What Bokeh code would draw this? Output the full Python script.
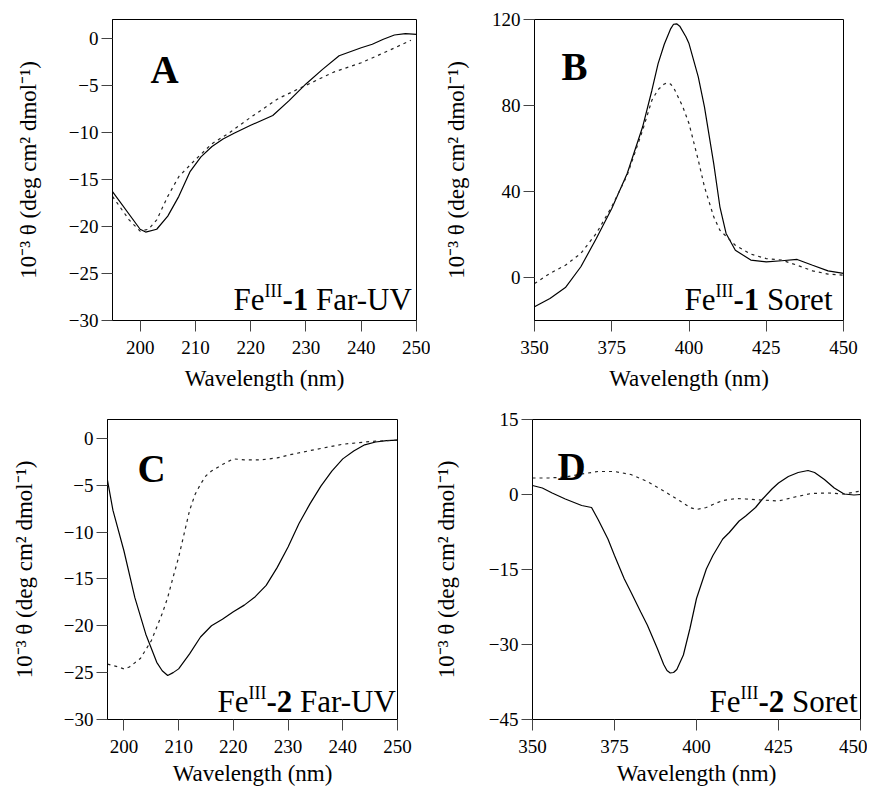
from bokeh.plotting import figure
from bokeh.layouts import column, row
from bokeh.models import Label, FixedTicker, Range1d
from bokeh.embed import file_html
from bokeh.resources import INLINE

# ---------------- data ----------------
a_solid_wl = [195, 200, 201, 203, 205, 207, 209, 211, 213, 215, 217, 220, 224, 227, 230, 233, 236, 240, 242, 244, 246, 248, 250]
a_solid = [-16.3, -20.3, -20.6, -20.3, -18.9, -16.8, -14.2, -12.6, -11.5, -10.7, -10.1, -9.25, -8.2, -6.6, -4.85, -3.3, -1.86, -1.0, -0.63, -0.1, 0.35, 0.5, 0.42]
a_dash_wl = [195, 198, 200, 201.5, 203, 205, 207, 210, 213, 216, 220, 225, 230, 235, 240, 245, 249]
a_dash = [-16.8, -19.3, -20.5, -20.3, -19.3, -16.8, -14.7, -12.9, -11.2, -10.1, -8.4, -6.4, -5.0, -3.6, -2.6, -1.3, -0.2]

b_solid_wl = [350, 355, 360, 365, 370, 375, 380, 385, 388, 390, 392, 394, 395, 396, 397, 399, 400, 403, 405, 408, 410, 412, 415, 420, 425, 430, 435, 440, 445, 450]
b_solid = [-13.6, -9.8, -4.7, 5.0, 18.1, 32.1, 48.4, 70.1, 87.1, 99.5, 108.5, 115.5, 117.8, 118.0, 116.9, 112.0, 108.8, 93.3, 79.4, 53.0, 32.9, 20.5, 12.7, 8.1, 7.3, 7.8, 8.4, 5.7, 3.1, 1.9]
b_dash_wl = [350, 355, 360, 365, 370, 375, 380, 385, 388, 390, 392, 393, 394, 395, 398, 400, 403, 405, 408, 410, 415, 420, 425, 430, 435, 440, 445, 450]
b_dash = [-2.8, 1.9, 5.7, 11.2, 20.5, 32.9, 47.6, 68.5, 82.5, 87.4, 90.0, 90.5, 90.0, 88.4, 79.4, 71.6, 54.6, 42.2, 28.2, 22.0, 15.0, 10.9, 8.8, 8.1, 5.7, 3.1, 1.6, 1.1]

c_solid_wl = [197, 198, 200, 202, 204, 205, 206, 207, 208, 209, 210, 212, 214, 216, 218, 220, 222, 224, 226, 228, 230, 232, 234, 236, 238, 240, 242, 244, 246, 248, 250]
c_solid = [-4.5, -7.7, -12.0, -17.0, -20.9, -22.4, -23.9, -24.8, -25.3, -25.0, -24.6, -23.0, -21.2, -20.0, -19.3, -18.5, -17.8, -16.9, -15.7, -13.8, -11.6, -9.1, -7.0, -5.1, -3.5, -2.2, -1.35, -0.7, -0.4, -0.25, -0.2]
c_dash_wl = [197, 199, 200, 201, 203, 205, 207, 208, 209, 210, 211, 212, 213, 214, 215, 216, 218, 220, 222, 225, 228, 230, 235, 240, 245, 250]
c_dash = [-24.1, -24.4, -24.6, -24.4, -23.5, -21.6, -18.7, -17.0, -14.8, -12.7, -10.2, -7.7, -6.0, -4.9, -4.0, -3.5, -2.8, -2.2, -2.3, -2.3, -2.1, -1.8, -1.2, -0.64, -0.35, -0.2]

d_solid_wl = [350, 353, 356, 360, 365, 368, 370, 373, 375, 378, 380, 383, 385, 388, 390, 391, 392, 393, 394, 396, 398, 400, 403, 405, 408, 410, 413, 415, 418, 420, 423, 425, 428, 431, 434, 436, 439, 442, 445, 448, 450]
d_solid = [1.8, 1.3, 0.3, -0.9, -2.2, -2.6, -5.0, -8.9, -12.2, -16.9, -19.5, -23.5, -26.1, -30.7, -34.0, -35.2, -35.7, -35.6, -35.0, -32.1, -26.8, -20.8, -14.9, -12.2, -8.9, -7.6, -5.3, -4.3, -2.6, -1.0, 1.1, 2.3, 3.6, 4.4, 4.8, 4.4, 3.0, 1.3, 0.1, -0.1, 0.0]
d_dash_wl = [350, 355, 360, 365, 370, 375, 380, 385, 390, 393, 395, 398, 400, 403, 405, 408, 412, 415, 420, 425, 430, 435, 440, 445, 450]
d_dash = [3.3, 3.3, 3.5, 4.1, 4.6, 4.6, 4.0, 2.6, 0.7, -0.5, -1.3, -2.6, -3.0, -2.6, -2.0, -1.2, -0.8, -0.9, -1.1, -1.3, -0.5, 0.2, 0.3, 0.1, 0.7]

x_ticks_far = [200, 210, 220, 230, 240, 250]
x_ticks_soret = [350, 375, 400, 425, 450]
y_ticks_a = [-30, -25, -20, -15, -10, -5, 0]
y_ticks_b = [0, 40, 80, 120]
y_ticks_d = [-45, -30, -15, 0, 15]

panel_letters = ["A", "B", "C", "D"]
compound = ["1", "1", "2", "2"]
region = ["Far-UV", "Soret", "Far-UV", "Soret"]
x_title = "Wavelength (nm)"
y_title = "10\u207b\u00b3 \u03b8 (deg cm\u00b2 dmol\u207b\u00b9)"

FONT = "Liberation Serif"
MID = 0.34  # labels are anchored at the middle of the text box: shift to put the baseline where wanted

# Times / Liberation Serif advance widths (per 1000 em)
W_REG = {"F": 556, "e": 444, "I": 333, "a": 444, "r": 333, "-": 333, "U": 722, "V": 722,
         "S": 556, "o": 500, "t": 278, " ": 250}
W_BOLD = {"-": 333, "1": 500, "2": 500}


def tw(s, size, bold=False):
    t = W_BOLD if bold else W_REG
    return sum(t[c] for c in s) * size / 1000.0


def make_fig(w, h, bl, br, bt, bb, xr, yr, xt, yt, ylab_standoff, xlab_standoff):
    p = figure(width=w, height=h, min_border_left=bl, min_border_right=br,
               min_border_top=bt, min_border_bottom=bb,
               x_range=Range1d(*xr), y_range=Range1d(*yr),
               output_backend="svg", toolbar_location=None, tools="")
    p.grid.visible = False
    p.outline_line_color = "black"
    p.outline_line_width = 1
    p.background_fill_color = "white"
    p.border_fill_color = "white"
    for ax in (p.xaxis[0], p.yaxis[0]):
        ax.axis_line_color = "black"
        ax.major_tick_line_color = "#444444"
        ax.major_tick_in = 0
        ax.major_tick_out = 11
        ax.minor_tick_line_color = None
        ax.major_label_text_font = FONT
        ax.major_label_text_font_size = "19px"
        ax.major_label_text_color = "black"
        ax.axis_label_text_font = FONT
        ax.axis_label_text_font_style = "normal"
        ax.axis_label_text_color = "black"
    p.xaxis[0].ticker = FixedTicker(ticks=xt)
    p.yaxis[0].ticker = FixedTicker(ticks=yt)
    p.xaxis[0].major_label_standoff = 9
    p.yaxis[0].major_label_standoff = 3
    p.xaxis[0].axis_label = x_title
    p.xaxis[0].axis_label_text_font_size = "23px"
    p.xaxis[0].axis_label_standoff = xlab_standoff
    p.yaxis[0].axis_label = y_title
    p.yaxis[0].axis_label_text_font_size = "23px"
    p.yaxis[0].axis_label_standoff = ylab_standoff
    return p


def decorate(p, xr, yr, idx, ann_left, ann_base, let_dx, let_dy):
    # panel letter, placed from the frame's right edge
    lsz = 39
    p.add_layout(Label(x=xr[1], y=yr[1], x_offset=let_dx, y_offset=-let_dy + MID * lsz,
                       text=panel_letters[idx], text_font=FONT, text_font_size=f"{lsz}px",
                       text_font_style="bold", text_align="left", text_baseline="alphabetic",
                       text_color="black"))
    # "Fe^III-n Region" annotation, built piecewise
    main, sup = 31, 18
    pieces = [("Fe", main, "normal", 0, tw("Fe", main)),
              ("III", sup, "normal", 13, tw("III", sup)),
              ("-" + compound[idx], main, "bold", 0, tw("-" + compound[idx], main, True)),
              (region[idx], main, "normal", 0, None)]
    xo = ann_left
    for i, (t, sz, st, dy, w) in enumerate(pieces):
        if i == 3:
            xo += tw(" ", main)
        p.add_layout(Label(x=xr[1], y=yr[0], x_offset=xo, y_offset=ann_base + dy + MID * sz,
                           text=t, text_font=FONT, text_font_size=f"{sz}px",
                           text_font_style=st, text_align="left", text_baseline="alphabetic",
                           text_color="black"))
        if w is not None:
            xo += w


def curves(p, xs, ys, xd, yd):
    p.line(xs, ys, line_color="black", line_width=1.2)
    p.line(xd, yd, line_color="#222222", line_width=1.2, line_dash="3 4")


# Panel A
xa, ya = (195, 250), (-30, 2)
pA = make_fig(430, 400, 112, 14, 19, 78, xa, ya, x_ticks_far, y_ticks_a, 25, 9)
curves(pA, a_solid_wl, a_solid, a_dash_wl, a_dash)
decorate(pA, xa, ya, 0, -183, 10, -266, 63)

# Panel B
xb, yb = (350, 450), (-20, 120)
pB = make_fig(437, 400, 104, 24, 19, 80, xb, yb, x_ticks_soret, y_ticks_b, 20, 9)
curves(pB, b_solid_wl, b_solid, b_dash_wl, b_dash)
decorate(pB, xb, yb, 1, -159, 10, -282, 60)

# Panel C
xc, yc = (197, 250), (-30, 2)
pC = make_fig(430, 388, 107, 33, 19, 69, xc, yc, x_ticks_far, y_ticks_a, 24, 5)
curves(pC, c_solid_wl, c_solid, c_dash_wl, c_dash)
decorate(pC, xc, yc, 2, -180, 7, -260, 62)

# Panel D
xdr, ydr = (350, 450), (-45, 15)
pD = make_fig(437, 388, 97, 7, 19, 66, xdr, ydr, x_ticks_soret, y_ticks_d, 27, 5)
curves(pD, d_solid_wl, d_solid, d_dash_wl, d_dash)
decorate(pD, xdr, ydr, 3, -151, 7, -303, 60)

layout = column(row(pA, pB), row(pC, pD))

open("out.html", "w").write(file_html(layout, INLINE))
